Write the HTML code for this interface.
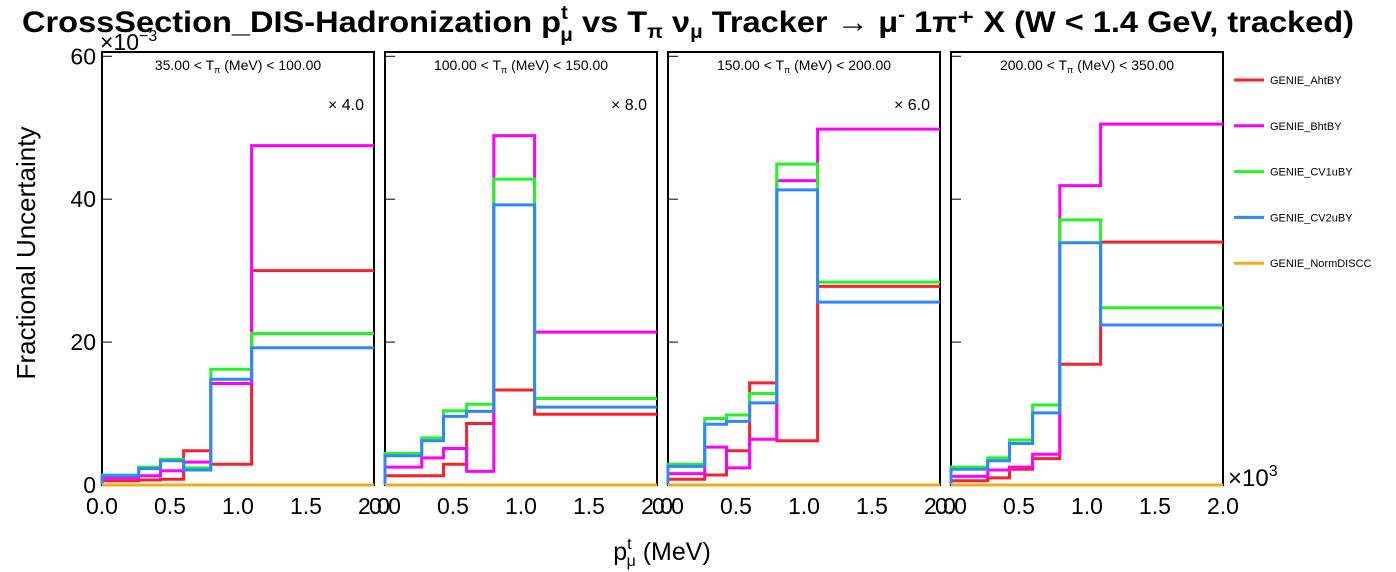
<!DOCTYPE html>
<html><head><meta charset="utf-8"><style>
html,body{margin:0;padding:0;background:#fff;}
svg{display:block;font-family:"Liberation Sans",sans-serif;}
</style></head><body>
<svg id="chart" width="1396" height="572" viewBox="0 0 1396 572" xmlns="http://www.w3.org/2000/svg">
<text x="688" y="32" text-anchor="middle" font-size="30" font-weight="bold" textLength="1332" lengthAdjust="spacingAndGlyphs">CrossSection_DIS-Hadronization p<tspan font-size="19" dy="-13">t</tspan><tspan font-size="19" dx="-7" dy="22">μ</tspan><tspan dy="-9"> vs T</tspan><tspan font-size="19" dy="6">π</tspan><tspan dy="-6">  ν</tspan><tspan font-size="19" dy="6">μ</tspan><tspan dy="-6"> Tracker  → μ</tspan><tspan font-size="19" dy="-11">-</tspan><tspan dy="11"> 1π⁺ X  (W &lt; 1.4 GeV, tracked)</tspan></text>
<text x="100" y="50" font-size="23">×10<tspan font-size="16" dy="-9">−3</tspan></text>
<text transform="translate(35,253) rotate(-90)" text-anchor="middle" font-size="26">Fractional Uncertainty</text>
<text x="662" y="560" text-anchor="middle" font-size="25">p<tspan font-size="16" dy="-11">t</tspan><tspan font-size="16" dx="-5" dy="17">μ</tspan><tspan dy="-6"> (MeV)</tspan></text>
<text x="1228" y="486" font-size="24">×10<tspan font-size="16" dy="-10">3</tspan></text>
<g id="panels"></g>
<g id="legend"></g>
</svg>
<script>
const binEdges = [0, 270, 430, 600, 800, 1100, 2000];
const panelLabels = ["35.00 < T", "100.00 < T", "150.00 < T", "200.00 < T"];
const panelUpper = ["100.00", "150.00", "200.00", "350.00"];
const scaleLabels = ["× 4.0", "× 8.0", "× 6.0", ""];
const xTickVals = [0, 500, 1000, 1500, 2000];
const xTickText = ["0.0", "0.5", "1.0", "1.5", "2.0"];
const yTickVals = [0, 20, 40, 60];
const seriesNames = ["GENIE_AhtBY", "GENIE_BhtBY", "GENIE_CV1uBY", "GENIE_CV2uBY", "GENIE_NormDISCC"];
const seriesColors = ["#f5222d", "#ff00ff", "#22f522", "#2f87ff", "#f7a81b"];
const ahtBY = [[0.6,0.7,0.8,4.8,2.9,30.0],[1.3,1.3,2.9,8.6,13.3,9.9],[0.8,1.4,4.8,14.3,6.2,27.8],[0.6,1.0,2.2,3.7,16.9,34.0]];
const bhtBY = [[1.0,1.3,2.0,3.2,14.2,47.5],[2.5,3.8,5.1,1.9,48.9,21.4],[1.6,5.3,2.4,6.4,42.6,49.8],[1.2,2.1,2.5,4.3,41.9,50.5]];
const cv1uBY = [[1.4,2.5,3.6,2.4,16.2,21.2],[4.4,6.6,10.4,11.3,42.8,12.1],[2.9,9.3,9.8,12.8,44.9,28.4],[2.5,3.8,6.3,11.2,37.1,24.8]];
const cv2uBY = [[1.3,2.3,3.4,2.1,14.8,19.2],[4.1,6.2,9.6,10.3,39.2,10.9],[2.6,8.5,8.9,11.5,41.3,25.6],[2.2,3.4,5.8,10.1,33.9,22.4]];
const normDISCC = [[0,0,0,0,0,0],[0,0,0,0,0,0],[0,0,0,0,0,0],[0,0,0,0,0,0]];
const seriesData = [ahtBY, bhtBY, cv1uBY, cv2uBY, normDISCC];

const NS = "http://www.w3.org/2000/svg";
const panelLeft = [102, 385, 668, 951];
const panelW = 272, plotTop = 52, plotBottom = 485, yMax = 60.6;
function xScale(p, v){ return panelLeft[p] + v / 2000 * panelW; }
function yScale(v){ return plotBottom - v / yMax * (plotBottom - plotTop); }
function mk(tag, attrs, parent){ const e = document.createElementNS(NS, tag); for (const k in attrs) e.setAttribute(k, attrs[k]); parent.appendChild(e); return e; }
const panels = document.getElementById("panels");
for (let p = 0; p < 4; p++) {
  const g = mk("g", {}, panels);
  
  
  const fr = mk("rect", {x: panelLeft[p], y: plotTop, width: panelW, height: plotBottom - plotTop, fill: "none", stroke: "#000", "stroke-width": 2}, g);
  
  
  yTickVals.forEach(v => {
    const t = mk("line", {x1: panelLeft[p], x2: panelLeft[p] + 10, y1: yScale(v), y2: yScale(v), stroke: "#000", "stroke-width": 1}, g);
    
    
    if (p === 0) {
      const tl = mk("text", {x: panelLeft[p] - 6, y: yScale(v) + 8, "text-anchor": "end", "font-size": 23}, g);
      tl.textContent = v;
      
      
    }
  });
  xTickVals.forEach((v, i) => {
    const tl = mk("text", {x: xScale(p, v), y: 514, "text-anchor": "middle", "font-size": 23}, g);
    tl.textContent = xTickText[i];
    
    
  });
  const lbl = mk("text", {x: panelLeft[p] + panelW / 2, y: 70, "text-anchor": "middle", "font-size": 14}, g);
  lbl.innerHTML = panelLabels[p] + '<tspan font-size="9" dy="3">π</tspan><tspan dy="-3"> (MeV) &lt; ' + panelUpper[p] + '</tspan>';
  
  
  if (scaleLabels[p]) {
    const sl = mk("text", {x: panelLeft[p] + panelW - 10, y: 110, "text-anchor": "end", "font-size": 16}, g);
    sl.textContent = scaleLabels[p];
    
    
  }
  for (let s = 0; s < seriesData.length; s++) {
    const vals = seriesData[s][p];
    let d = "M" + xScale(p, binEdges[0]) + "," + yScale(0);
    vals.forEach((v, i) => {
      d += " L" + xScale(p, binEdges[i]) + "," + yScale(v) + " L" + xScale(p, binEdges[i + 1]) + "," + yScale(v);
    });
    const path = mk("path", {d: d, fill: "none", stroke: seriesColors[s], "stroke-width": 3}, g);
    
    
  }
}
const legend = document.getElementById("legend");


seriesNames.forEach((n, i) => {
  const y = 80 + i * 45.8;
  const eg = mk("g", {}, legend);
  
  
  mk("line", {x1: 1234, x2: 1264, y1: y, y2: y, stroke: seriesColors[i], "stroke-width": 3}, eg);
  const t = mk("text", {x: 1270, y: y + 4, "font-size": 11}, eg);
  t.textContent = n;
});
</script>
</body></html>
